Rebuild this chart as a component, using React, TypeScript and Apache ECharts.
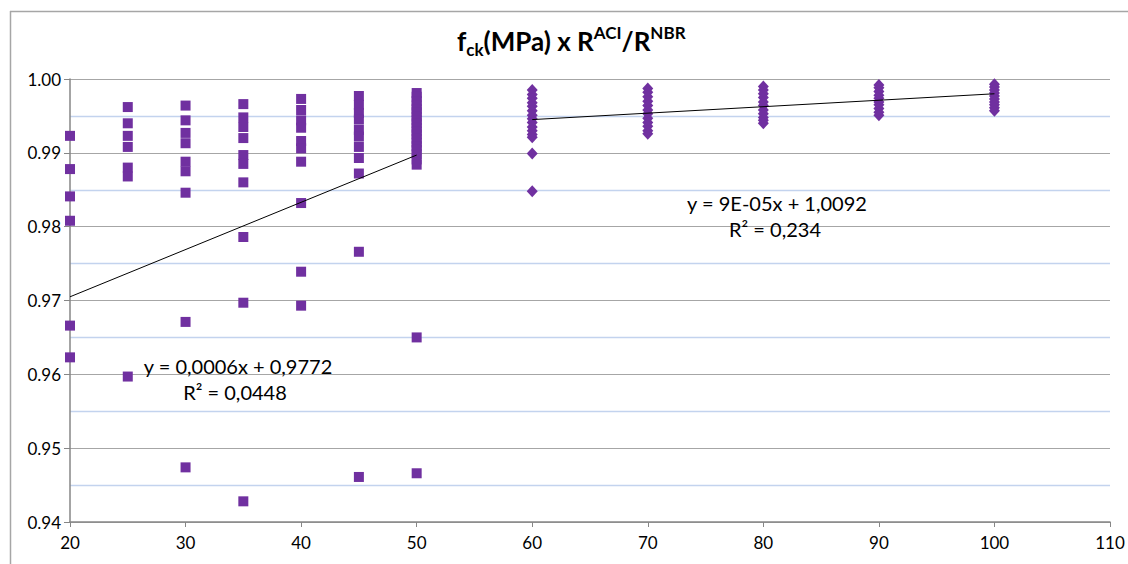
import React, { useEffect, useRef } from "react";
import * as echarts from "echarts";

const xTicks = [20, 30, 40, 50, 60, 70, 80, 90, 100, 110];
const yTicks = [0.94, 0.95, 0.96, 0.97, 0.98, 0.99, 1.0];

// Group 1 (squares): fck 20..50
const sq20 = [0.9923, 0.9878, 0.9841, 0.9808, 0.9666, 0.9623];
const sq25 = [0.9962, 0.994, 0.9923, 0.9908, 0.988, 0.9868, 0.9597];
const sq30 = [0.9964, 0.9944, 0.9927, 0.9913, 0.9888, 0.9875, 0.9846, 0.9671, 0.9474];
const sq35 = [0.9966, 0.9948, 0.9935, 0.992, 0.9897, 0.9885, 0.986, 0.9786, 0.9697, 0.9428];
const sq40 = [0.9973, 0.9958, 0.9944, 0.9934, 0.9916, 0.9906, 0.9888, 0.9832, 0.9739, 0.9693];
const sq45 = [0.9977, 0.9965, 0.9954, 0.9945, 0.9931, 0.9922, 0.9908, 0.9893, 0.9872, 0.9766, 0.9461];
const sq50 = [0.9981, 0.9976, 0.997, 0.9964, 0.9959, 0.9955, 0.9949, 0.9944, 0.994, 0.9934, 0.9929, 0.9925, 0.9919, 0.9914, 0.9909, 0.9904, 0.9898, 0.9891, 0.9884, 0.965, 0.9466];

// Group 2 (diamonds): fck 60..100
const dm60 = [0.9985, 0.9979, 0.9974, 0.9968, 0.9963, 0.9957, 0.9951, 0.9946, 0.9941, 0.9935, 0.993, 0.9925, 0.9921, 0.9899, 0.9848];
const dm70 = [0.9987, 0.9982, 0.9976, 0.997, 0.9964, 0.9958, 0.9953, 0.9947, 0.9941, 0.9936, 0.993, 0.9926];
const dm80 = [0.999, 0.9985, 0.998, 0.9975, 0.9969, 0.9964, 0.9958, 0.9953, 0.9948, 0.9944, 0.994];
const dm90 = [0.9992, 0.9988, 0.9983, 0.9978, 0.9974, 0.9969, 0.9965, 0.996, 0.9955, 0.9951];
const dm100 = [0.9993, 0.9989, 0.9985, 0.9981, 0.9977, 0.9973, 0.9969, 0.9965, 0.9961, 0.9957];

// Trendline endpoints as drawn
const trend1 = [[20, 0.9705], [50, 0.9897]];
const trend2 = [[60, 0.9945], [100, 0.998]];

const eq1 = "y = 0,0006x + 0,9772";
const r1 = "R² = 0,0448";
const eq2 = "y = 9E-05x + 1,0092";
const r2 = "R² = 0,234";

const squareGroups: [number, number[]][] = [[20, sq20], [25, sq25], [30, sq30], [35, sq35], [40, sq40], [45, sq45], [50, sq50]];
const diamondGroups: [number, number[]][] = [[60, dm60], [70, dm70], [80, dm80], [90, dm90], [100, dm100]];

const toPts = (groups: [number, number[]][]) =>
  groups.flatMap(([x, ys]) => ys.map((y) => [x, y]));

const FONT = "Lato, 'Open Sans', sans-serif";
const PURPLE = "#7030A0";

export default function App() {
  const ref = useRef<HTMLDivElement>(null);
  useEffect(() => {
    if (!ref.current) return;
    const chart = echarts.init(ref.current, undefined, { renderer: "svg" });
    chart.setOption({
      animation: false,
      backgroundColor: "#ffffff",
      title: {
        left: 452,
        top: 19,
        text: "{b|f}{sub|ck}{b|(MPa) x R}{sup|ACI}{b|/R}{sup|NBR}",
        textStyle: {
          rich: {
            b: { fontFamily: FONT, fontWeight: "bold", fontSize: 26, color: "#000", lineHeight: 34 },
            sub: { fontFamily: FONT, fontWeight: "bold", fontSize: 17, color: "#000", lineHeight: 34, verticalAlign: "bottom", padding: [11, 0, 0, 0] },
            sup: { fontFamily: FONT, fontWeight: "bold", fontSize: 17, color: "#000", lineHeight: 34, verticalAlign: "top", padding: [0, 0, 9, 0] },
          },
        },
      },
      grid: { left: 70, right: 18, top: 79, bottom: 42, containLabel: false },
      xAxis: {
        type: "value",
        min: xTicks[0],
        max: xTicks[xTicks.length - 1],
        interval: 10,
        axisLine: { show: true, lineStyle: { color: "#868686", width: 1.5 } },
        axisTick: { show: true, length: 5, lineStyle: { color: "#868686" } },
        axisLabel: { fontFamily: FONT, fontSize: 17, color: "#000", margin: 12 },
        splitLine: { show: false },
      },
      yAxis: {
        type: "value",
        min: yTicks[0],
        max: yTicks[yTicks.length - 1],
        interval: 0.01,
        axisLine: { show: true, lineStyle: { color: "#868686", width: 1.5 } },
        axisTick: { show: true, length: 6, lineStyle: { color: "#868686" } },
        axisLabel: { fontFamily: FONT, fontSize: 17, color: "#000", margin: 9, formatter: (v: number) => v.toFixed(2) },
        splitLine: { show: true, lineStyle: { color: "#A6A6A6", width: 1.2 } },
        minorTick: { show: false, splitNumber: 2 },
        minorSplitLine: { show: true, lineStyle: { color: "#C3D3EE", width: 1.3 } },
      },
      series: [
        {
          type: "scatter",
          symbol: "rect",
          symbolSize: 10,
          itemStyle: { color: PURPLE, opacity: 1 },
          data: toPts(squareGroups),
          z: 3,
        },
        {
          type: "scatter",
          symbol: "diamond",
          symbolSize: [11, 12],
          itemStyle: { color: PURPLE, opacity: 1 },
          data: toPts(diamondGroups),
          z: 3,
        },
        {
          type: "line",
          data: trend1,
          symbol: "none",
          lineStyle: { color: "#000", width: 1 },
          z: 4,
        },
        {
          type: "line",
          data: trend2,
          symbol: "none",
          lineStyle: { color: "#000", width: 1 },
          z: 4,
        },
      ],
      graphic: [
        { type: "line", shape: { x1: 10.5, y1: 11, x2: 10.5, y2: 564 }, style: { stroke: "#A6A6A6", lineWidth: 1.5 } },
        { type: "line", shape: { x1: 10, y1: 11.5, x2: 1128, y2: 11.5 }, style: { stroke: "#A6A6A6", lineWidth: 1.5 } },
        { type: "text", x: 238, y: 366, z: 10, style: { text: eq1, fill: "#000", font: `20px ${FONT}`, textAlign: "center", textVerticalAlign: "middle" } },
        { type: "text", x: 235, y: 392, z: 10, style: { text: r1, fill: "#000", font: `20px ${FONT}`, textAlign: "center", textVerticalAlign: "middle" } },
        { type: "text", x: 777, y: 203, z: 10, style: { text: eq2, fill: "#000", font: `20px ${FONT}`, textAlign: "center", textVerticalAlign: "middle" } },
        { type: "text", x: 775, y: 229, z: 10, style: { text: r2, fill: "#000", font: `20px ${FONT}`, textAlign: "center", textVerticalAlign: "middle" } },
      ],
    });
    return () => chart.dispose();
  }, []);
  return (
    <div
      ref={ref}
      style={{ position: "fixed", left: 0, top: 0, width: 1128, height: 564 }}
    />
  );
}
